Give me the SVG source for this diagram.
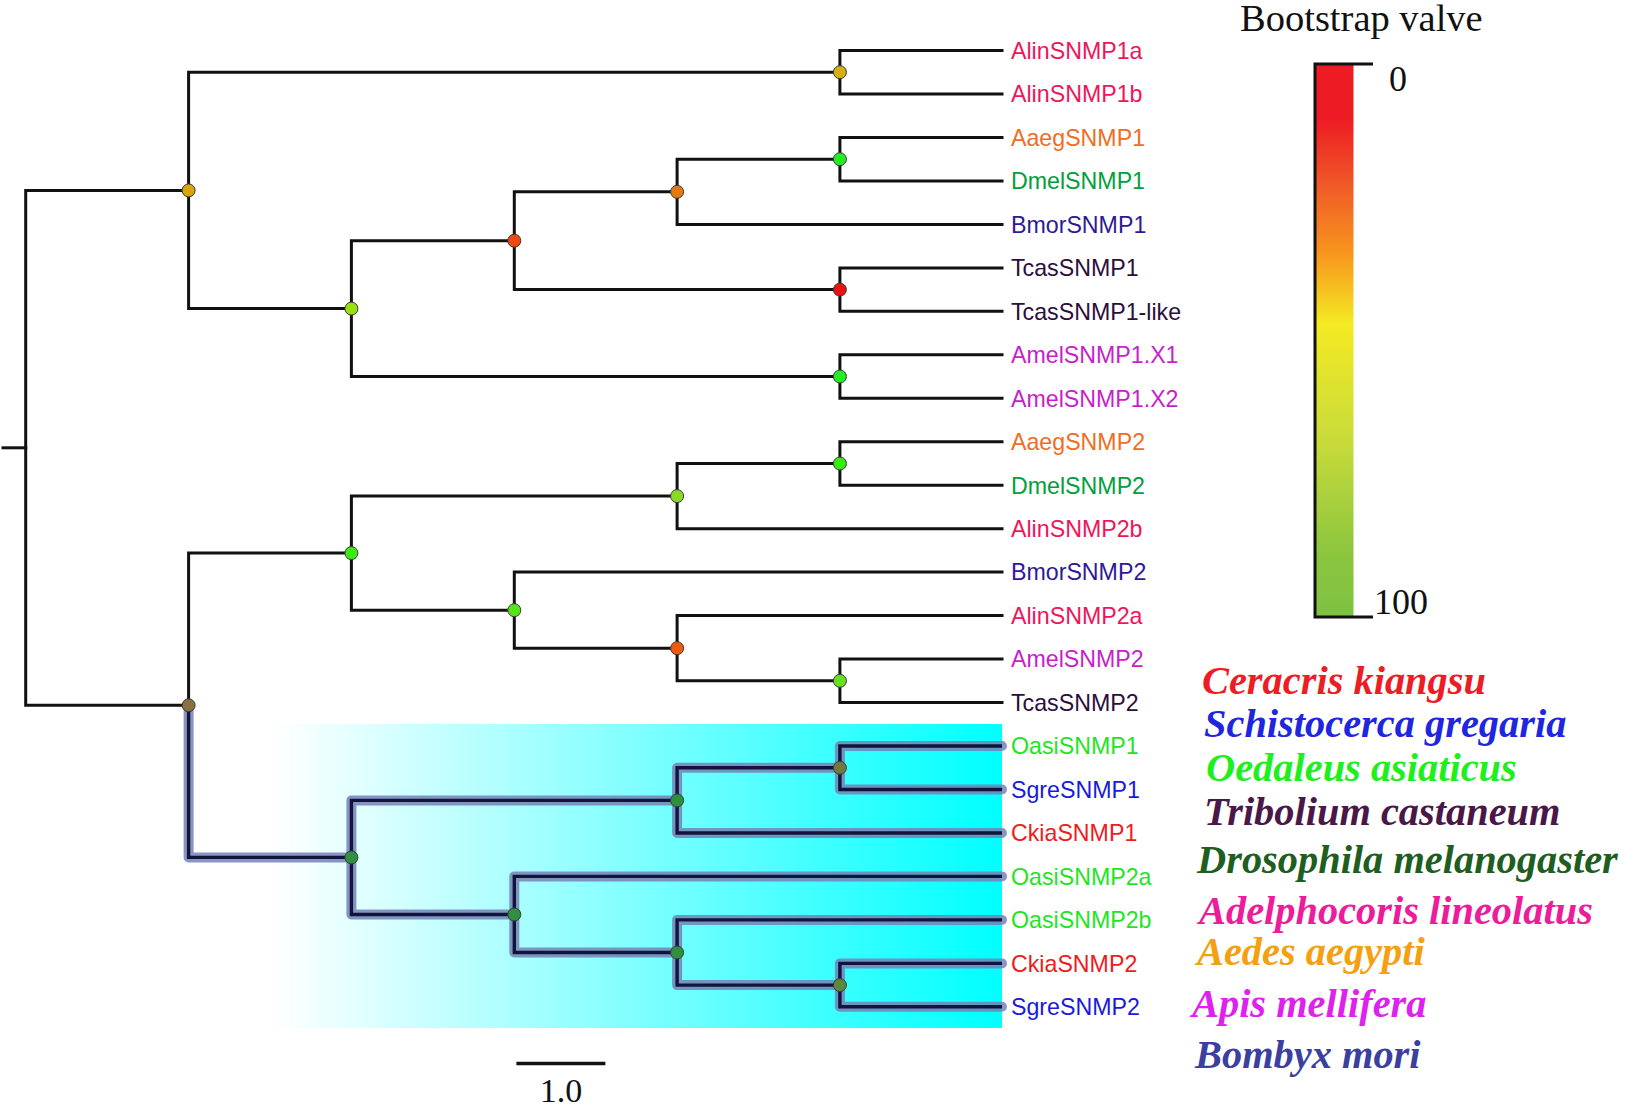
<svg xmlns="http://www.w3.org/2000/svg" width="1625" height="1107" viewBox="0 0 1625 1107">
<defs>
<linearGradient id="cyanFade" x1="0" y1="0" x2="1" y2="0">
<stop offset="0" stop-color="#FFFFFF"/>
<stop offset="1" stop-color="#00FFFF"/>
</linearGradient>
<linearGradient id="boot" x1="0" y1="0" x2="0" y2="1">
<stop offset="0" stop-color="#ED1C24"/>
<stop offset="0.1" stop-color="#ED1C24"/>
<stop offset="0.22" stop-color="#F05A28"/>
<stop offset="0.34" stop-color="#F7941D"/>
<stop offset="0.47" stop-color="#F4EA23"/>
<stop offset="0.68" stop-color="#C9DB3A"/>
<stop offset="0.88" stop-color="#8DC63F"/>
<stop offset="1" stop-color="#7DC242"/>
</linearGradient>
</defs>
<style>
.br{fill:none;stroke:#111;stroke-width:3;stroke-linejoin:miter;stroke-linecap:square}
.halo{fill:none;stroke:#7482B8;stroke-opacity:0.85;stroke-width:10;stroke-linejoin:round;stroke-linecap:round}
.core{fill:none;stroke:#12143A;stroke-width:3.4;stroke-linejoin:miter;stroke-linecap:butt}
.nd{stroke:#3a3a3a;stroke-width:1}
.lf{font-family:"Liberation Sans",Arial,sans-serif;font-size:23.2px}
.sp{font-family:"Liberation Serif","Times New Roman",serif;font-size:40.4px;font-weight:bold;font-style:italic}
.tm{font-family:"Liberation Serif","Times New Roman",serif;fill:#111}
.alin{fill:#F0145A}.aaeg{fill:#F26D21}.dmel{fill:#00A03C}.bmor{fill:#2E1A96}.tcas{fill:#2B0E3C}.amel{fill:#C81ECB}.oasi{fill:#1EE61E}.sgre{fill:#1A1ADC}.ckia{fill:#EE1C1C}
</style>

<rect id="highlight" x="274" y="724" width="728" height="304" fill="url(#cyanFade)"/>

<g id="connectors">
<path class="br" d="M3 447.8 H25.7"/>
<path class="br" d="M188.6 190.4 H25.7 V705.3 H188.6"/>
<path class="br" d="M839.9 72.2 H188.6 V308.6 H351.4"/>
<path class="br" d="M1002 50.5 H839.9 V94 H1002"/>
<path class="br" d="M514.3 240.7 H351.4 V376.5 H839.9"/>
<path class="br" d="M677.1 191.8 H514.3 V289.6 H839.9"/>
<path class="br" d="M839.9 159.2 H677.1 V224.4 H1002"/>
<path class="br" d="M1002 137.4 H839.9 V180.9 H1002"/>
<path class="br" d="M1002 267.9 H839.9 V311.3 H1002"/>
<path class="br" d="M1002 354.8 H839.9 V398.3 H1002"/>
<path class="br" d="M351.4 553.1 H188.6 V705.3"/>
<path class="br" d="M677.1 496.1 H351.4 V610.2 H514.3"/>
<path class="br" d="M839.9 463.5 H677.1 V528.7 H1002"/>
<path class="br" d="M1002 441.7 H839.9 V485.2 H1002"/>
<path class="br" d="M1002 572.1 H514.3 V648.2 H677.1"/>
<path class="br" d="M1002 615.6 H677.1 V680.8 H839.9"/>
<path class="br" d="M1002 659.1 H839.9 V702.6 H1002"/>
<g id="highlighted-clade">
<path class="halo" d="M188.6 711 V857.4 H351.4 M677.1 800.4 H351.4 V914.5 H514.3 M839.9 767.8 H677.1 V833 H1002 M1002 746 H839.9 V789.5 H1002 M1002 876.4 H514.3 V952.5 H677.1 M1002 919.9 H677.1 V985.1 H839.9 M1002 963.4 H839.9 V1006.8 H1002"/>
<path class="core" d="M188.6 705.3 V857.4 H351.4 M677.1 800.4 H351.4 V914.5 H514.3 M839.9 767.8 H677.1 V833 H1002 M1002 746 H839.9 V789.5 H1002 M1002 876.4 H514.3 V952.5 H677.1 M1002 919.9 H677.1 V985.1 H839.9 M1002 963.4 H839.9 V1006.8 H1002"/>
</g>
</g>

<g id="nodes">
<circle id="n-top" class="nd" cx="839.9" cy="72.2" r="6.5" fill="#D4B012"/>
<circle id="n-A" class="nd" cx="188.6" cy="190.4" r="6.5" fill="#D9A40E"/>
<circle id="n-B" class="nd" cx="351.4" cy="308.6" r="6.5" fill="#9ADF10"/>
<circle id="n-C" class="nd" cx="514.3" cy="240.7" r="6.5" fill="#F04810"/>
<circle id="n-D" class="nd" cx="677.1" cy="191.8" r="6.5" fill="#E57A10"/>
<circle id="n-E" class="nd" cx="839.9" cy="159.2" r="6.5" fill="#22EE22"/>
<circle id="n-F" class="nd" cx="839.9" cy="289.6" r="6.5" fill="#EE1111"/>
<circle id="n-G" class="nd" cx="839.9" cy="376.5" r="6.5" fill="#22EE22"/>
<circle id="n-H" class="nd" cx="188.6" cy="705.3" r="6.5" fill="#8A7040"/>
<circle id="n-I" class="nd" cx="351.4" cy="553.1" r="6.5" fill="#3EEB10"/>
<circle id="n-J" class="nd" cx="677.1" cy="496.1" r="6.5" fill="#88DD22"/>
<circle id="n-K" class="nd" cx="839.9" cy="463.5" r="6.5" fill="#33EE11"/>
<circle id="n-L" class="nd" cx="514.3" cy="610.2" r="6.5" fill="#55E515"/>
<circle id="n-M" class="nd" cx="677.1" cy="648.2" r="6.5" fill="#EE5A10"/>
<circle id="n-N" class="nd" cx="839.9" cy="680.8" r="6.5" fill="#66E020"/>
<circle id="n-O" class="nd" cx="351.4" cy="857.4" r="6.5" fill="#2E9040"/>
<circle id="n-P" class="nd" cx="677.1" cy="800.4" r="6.5" fill="#2E9040"/>
<circle id="n-Q" class="nd" cx="839.9" cy="767.8" r="6.5" fill="#707A3C"/>
<circle id="n-R" class="nd" cx="514.3" cy="914.5" r="6.5" fill="#2E9040"/>
<circle id="n-S" class="nd" cx="677.1" cy="952.5" r="6.5" fill="#2E9040"/>
<circle id="n-T" class="nd" cx="839.9" cy="985.1" r="6.5" fill="#5A8A40"/>
</g>

<g id="leaves">
<text id="l0" class="lf alin" x="1011" y="58.8">AlinSNMP1a</text>
<text id="l1" class="lf alin" x="1011" y="102.3">AlinSNMP1b</text>
<text id="l2" class="lf aaeg" x="1011" y="145.7">AaegSNMP1</text>
<text id="l3" class="lf dmel" x="1011" y="189.2">DmelSNMP1</text>
<text id="l4" class="lf bmor" x="1011" y="232.7">BmorSNMP1</text>
<text id="l5" class="lf tcas" x="1011" y="276.2">TcasSNMP1</text>
<text id="l6" class="lf tcas" x="1011" y="319.6">TcasSNMP1-like</text>
<text id="l7" class="lf amel" x="1011" y="363.1">AmelSNMP1.X1</text>
<text id="l8" class="lf amel" x="1011" y="406.6">AmelSNMP1.X2</text>
<text id="l9" class="lf aaeg" x="1011" y="450">AaegSNMP2</text>
<text id="l10" class="lf dmel" x="1011" y="493.5">DmelSNMP2</text>
<text id="l11" class="lf alin" x="1011" y="537">AlinSNMP2b</text>
<text id="l12" class="lf bmor" x="1011" y="580.4">BmorSNMP2</text>
<text id="l13" class="lf alin" x="1011" y="623.9">AlinSNMP2a</text>
<text id="l14" class="lf amel" x="1011" y="667.4">AmelSNMP2</text>
<text id="l15" class="lf tcas" x="1011" y="710.9">TcasSNMP2</text>
<text id="l16" class="lf oasi" x="1011" y="754.3">OasiSNMP1</text>
<text id="l17" class="lf sgre" x="1011" y="797.8">SgreSNMP1</text>
<text id="l18" class="lf ckia" x="1011" y="841.3">CkiaSNMP1</text>
<text id="l19" class="lf oasi" x="1011" y="884.7">OasiSNMP2a</text>
<text id="l20" class="lf oasi" x="1011" y="928.2">OasiSNMP2b</text>
<text id="l21" class="lf ckia" x="1011" y="971.7">CkiaSNMP2</text>
<text id="l22" class="lf sgre" x="1011" y="1015.1">SgreSNMP2</text>
</g>

<g id="colorbar">
<text class="tm" x="1240" y="31" font-size="38.5">Bootstrap valve</text>
<rect x="1315" y="64" width="38.5" height="553" fill="url(#boot)"/>
<path d="M1373 64 H1315 V617 H1373" fill="none" stroke="#111" stroke-width="3"/>
<text class="tm" x="1389" y="90.5" font-size="36">0</text>
<text class="tm" x="1374" y="613.5" font-size="36">100</text>
</g>

<g id="legend">
<text class="sp" x="1202" y="694" fill="#EE1C25">Ceracris kiangsu</text>
<text class="sp" x="1204" y="736.5" fill="#1E26E0">Schistocerca gregaria</text>
<text class="sp" x="1206" y="780.5" fill="#1EF01E">Oedaleus asiaticus</text>
<text class="sp" x="1204" y="825" fill="#4A1848">Tribolium castaneum</text>
<text class="sp" x="1197" y="873" fill="#1E5E1E">Drosophila melanogaster</text>
<text class="sp" x="1199" y="924" fill="#EC1C9A">Adelphocoris lineolatus</text>
<text class="sp" x="1197" y="965" fill="#F5A00F">Aedes aegypti</text>
<text class="sp" x="1192" y="1016.5" fill="#DD22EE">Apis mellifera</text>
<text class="sp" x="1195" y="1068" fill="#3B3F9F">Bombyx mori</text>
</g>

<g id="scalebar">
<path d="M516.4 1063.5 H605.4" stroke="#111" stroke-width="3.5" fill="none"/>
<text class="tm" x="560.9" y="1102" font-size="34" text-anchor="middle">1.0</text>
</g>
</svg>
